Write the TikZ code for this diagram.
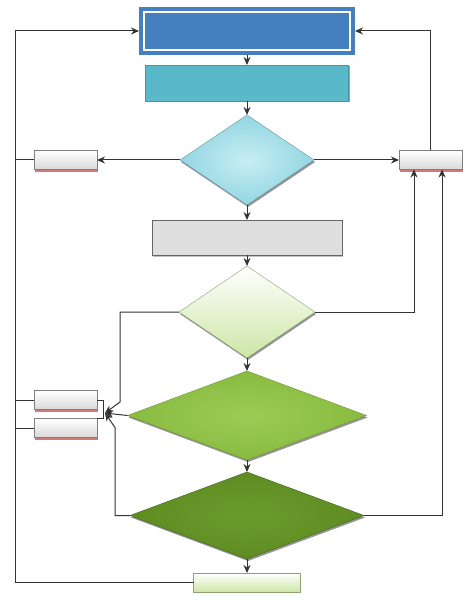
\documentclass[tikz,border=0pt]{standalone}
\usepackage{tikz}
\usetikzlibrary{shapes.geometric,arrows.meta,shadows}
\definecolor{topblue}{RGB}{68,128,192}
\definecolor{tealbox}{RGB}{90,185,200}
\definecolor{cyanin}{RGB}{200,238,243}
\definecolor{cyanout}{RGB}{146,214,226}
\definecolor{lgreen}{RGB}{205,230,165}
\definecolor{mgreen}{RGB}{137,187,64}
\definecolor{mgreenin}{RGB}{156,203,85}
\definecolor{dgreen}{RGB}{94,140,33}
\definecolor{dgreenin}{RGB}{108,155,45}
\begin{document}
\begin{tikzpicture}[x=1pt,y=-1pt,
  every node/.style={inner sep=0pt,outer sep=0pt},
  dia/.style={diamond,minimum width=#1,draw=black!40,
    drop shadow={shadow xshift=1pt,shadow yshift=-2pt,fill=black!70,opacity=.6}},
  tag/.style={rectangle,minimum width=63,minimum height=19,draw=gray,
    top color=white,bottom color=gray!30,
    drop shadow={shadow xshift=1pt,shadow yshift=-2pt,fill=red!50!gray,opacity=.7}},
  line/.style={draw=black!80,line width=1pt},
  arr/.style={line,-{Stealth[length=8pt,width=7pt]}}]
\useasboundingbox (0,0) rectangle (473,604);

% main column
\node (start) [rectangle,minimum width=206,minimum height=38,fill=topblue,
  draw=topblue,line width=4pt,double=white,double distance=2pt,outer sep=5pt] at (247,31) {};
\node (prep) [rectangle,minimum width=203,minimum height=36,fill=tealbox,draw=tealbox!80!black,
  drop shadow={shadow xshift=1.5pt,shadow yshift=-1.5pt,fill=black!60,opacity=.6}] at (247,83) {};
\node (q1) [dia=134,minimum height=90,inner color=cyanin,outer color=cyanout,draw=cyanout!70!black] at (247,160) {};
\node (work) [rectangle,minimum width=190,minimum height=35,fill=gray!25,draw=black!60,
  drop shadow={shadow xshift=1pt,shadow yshift=-1.5pt,fill=black!40,opacity=.6}] at (247,237.5) {};
\node (q2) [dia=136,minimum height=92,top color=white,bottom color=lgreen,draw=lgreen!70!black] at (247,312) {};
\node (q3) [dia=239,minimum height=89,inner color=mgreenin,outer color=mgreen,draw=mgreen!80!black] at (247,415.5) {};
\node (q4) [dia=234,minimum height=87,inner color=dgreenin,outer color=dgreen,draw=dgreen!70!black] at (247,515.5) {};
\node (done) [rectangle,minimum width=107,minimum height=19,top color=white,bottom color=lgreen,
  draw=lgreen!70!black] at (247,582.5) {};

% side boxes
\node (sideL) [tag] at (65.5,160) {};
\node (sideR) [tag] at (430.5,160) {};
\node (sideA) [tag] at (65.5,400) {};
\node (sideB) [tag] at (65.5,428) {};
\coordinate (ltop) at (15,31);
\coordinate (merge) at (105,413);

% connectors
\draw[arr] (start) -- (prep);
\draw[arr] (prep) -- (q1);
\draw[arr] (q1) -- (work);
\draw[arr] (work) -- (q2);
\draw[arr] (q2) -- (q3);
\draw[arr] (q3) -- (q4);
\draw[arr] (q4) -- (done);
\draw[arr] (q1.west) -- (sideL.east);
\draw[arr] (q1.east) -- (sideR.west);
\draw[arr] (sideR.north) |- (start.east);
\draw[arr] (done.west) -| (ltop) -- (start.west);
\draw[line] (sideL.west) -- (sideL.west -| ltop);
\draw[line] (sideA.west) -- (sideA.west -| ltop);
\draw[line] (sideB.west) -- (sideB.west -| ltop);
\draw[arr] (q2.east) -| ([xshift=-16.5pt]sideR.south);
\draw[arr] (q4.east) -| ([xshift=11.5pt]sideR.south);
\draw[line] (sideA.east) -- ++(6,0) |- (sideB.north east);
\draw[arr] (q2.west) -| ++(-59,90) -- (merge);
\draw[arr] (q3.west) -- (merge);
\draw[arr] (q4.west) -| ++(-15,-88) -- (merge);
\end{tikzpicture}
\end{document}
